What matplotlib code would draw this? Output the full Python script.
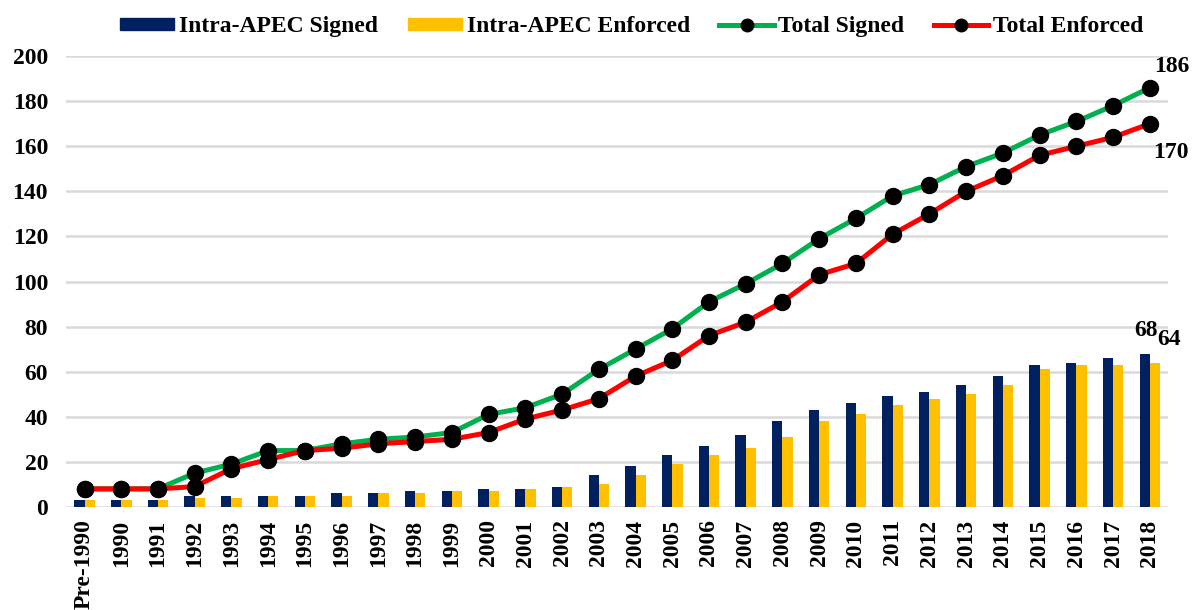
import matplotlib
matplotlib.use("Agg")
import matplotlib.pyplot as plt
import numpy as np
from matplotlib.patches import Patch
from matplotlib.lines import Line2D

categories = ["Pre-1990"] + [str(y) for y in range(1990, 2019)]
intra_signed = [3, 3, 3, 5, 5, 5, 5, 6, 6, 7, 7, 8, 8, 9, 14, 18, 23, 27, 32, 38,
                43, 46, 49, 51, 54, 58, 63, 64, 66, 68]
intra_enforced = [3, 3, 3, 4, 4, 5, 5, 5, 6, 6, 7, 7, 8, 9, 10, 14, 19, 23, 26, 31,
                  38, 41, 45, 48, 50, 54, 61, 63, 63, 64]
total_signed = [8, 8, 8, 15, 19, 25, 25, 28, 30, 31, 33, 41, 44, 50, 61, 70, 79, 91, 99, 108,
                119, 128, 138, 143, 151, 157, 165, 171, 178, 186]
total_enforced = [8, 8, 8, 9, 17, 21, 25, 26, 28, 29, 30, 33, 39, 43, 48, 58, 65, 76, 82, 91,
                  103, 108, 121, 130, 140, 147, 156, 160, 164, 170]
yticks = list(range(0, 201, 20))

NAVY = "#002060"
GOLD = "#FFC000"
GREEN = "#00B050"
RED = "#FF0000"
FONT = "Liberation Serif"
FS = 17

fig = plt.figure(figsize=(11.92, 6.10), dpi=100)
ax = fig.add_axes([0.0555, 0.169, 0.9245, 0.739])

x = np.arange(len(categories))
bw = 0.28
ax.bar(x - bw / 2, intra_signed, width=bw, color=NAVY, zorder=2)
ax.bar(x + bw / 2, intra_enforced, width=bw, color=GOLD, zorder=2)
ax.plot(x, total_signed, color=GREEN, lw=3.6, marker="o", ms=11.5,
        mfc="black", mec="black", zorder=3)
ax.plot(x, total_enforced, color=RED, lw=3.6, marker="o", ms=11.5,
        mfc="black", mec="black", zorder=4)

ax.set_xlim(-0.5, len(categories) - 0.5)
ax.set_ylim(0, 200)
ax.set_yticks(yticks)
ax.set_xticks(x)
ax.set_xticklabels(categories, rotation=90, fontsize=FS, fontweight="bold", family=FONT)
ax.set_yticklabels([str(v) for v in yticks], fontsize=FS, fontweight="bold", family=FONT)
ax.tick_params(axis="both", length=0)
ax.tick_params(axis="x", pad=9)
ax.tick_params(axis="y", pad=13)
for s in ax.spines.values():
    s.set_visible(False)
ax.yaxis.grid(True, color="#d9d9d9", lw=1.8, zorder=0)
ax.set_axisbelow(True)

last = len(categories) - 1
tkw = dict(fontsize=FS, fontweight="bold", family=FONT, textcoords="offset points",
           ha="center", va="center", annotation_clip=False)
ax.annotate(str(total_signed[-1]), xy=(last, total_signed[-1]), xytext=(16, 15), **tkw)
ax.annotate(str(total_enforced[-1]), xy=(last, total_enforced[-1]), xytext=(15, -21), **tkw)
ax.annotate(str(intra_signed[-1]), xy=(last - bw / 2, intra_signed[-1]), xytext=(1, 17), **tkw)
ax.annotate(str(intra_enforced[-1]), xy=(last + bw / 2, intra_enforced[-1]), xytext=(10, 17), **tkw)

handles = [
    Patch(facecolor=NAVY, edgecolor=NAVY),
    Patch(facecolor=GOLD, edgecolor=GOLD),
    Line2D([], [], color=GREEN, lw=3.6, marker="o", ms=9, mfc="black", mec="black"),
    Line2D([], [], color=RED, lw=3.6, marker="o", ms=9, mfc="black", mec="black"),
]
labels = ["Intra-APEC Signed", "Intra-APEC Enforced", "Total Signed", "Total Enforced"]
fig.legend(handles, labels, loc="center", bbox_to_anchor=(0.53, 0.956), ncol=4,
           frameon=False, prop={"family": FONT, "weight": "bold", "size": FS},
           handlelength=2.3, handleheight=0.45, handletextpad=0.2, columnspacing=1.25)

fig.savefig("out.png", dpi=100)
